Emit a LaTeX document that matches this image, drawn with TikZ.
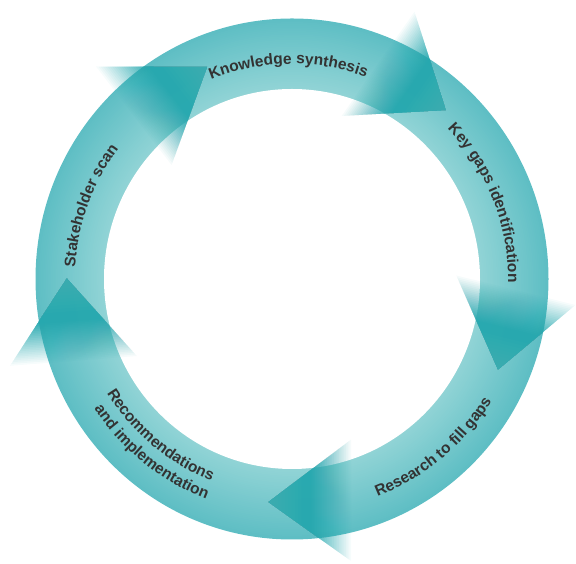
\documentclass[tikz,border=0pt]{standalone}
\usepackage{fontspec}
\setmainfont{Liberation Sans}
\usetikzlibrary{calc,decorations.text}
\definecolor{ringout}{RGB}{94,190,196}
\definecolor{ringin}{RGB}{146,212,214}
\definecolor{ringmid}{RGB}{112,199,203}
\definecolor{headteal}{RGB}{38,168,175}
\definecolor{labelgray}{RGB}{51,51,51}
\newcommand{\lblfont}{\fontsize{15.5}{18}\selectfont\bfseries\color{labelgray}}
\newcommand{\arrowhd}[3]{%
  \foreach \k in {1,...,24}{%
    \pgfmathsetmacro\hT{(\k-1)/24*0.5}%
    \pgfmathsetmacro\hA{(0.95/24)/(1-0.95*(\k-1)/24)}%
    \fill[headteal, fill opacity=\hA] ($(#2)!\hT!(#1)$) -- (#1) -- ($(#3)!\hT!(#1)$) -- cycle;
  }%
  \foreach \k in {1,...,10}{%
    \pgfmathsetmacro\hT{0.6+(\k-1)/10*0.4}%
    \fill[ringmid, fill opacity=0.035] ($(#2)!\hT!(#1)$) -- (#1) -- ($(#3)!\hT!(#1)$) -- cycle;
  }%
}
\tikzset{
  arclabel/.style={decorate, decoration={text along path, text align=center, text={|\lblfont|#1}}}
}
\begin{document}
\begin{tikzpicture}[x=1pt,y=1pt]
\useasboundingbox (0,0) rectangle (576,564);
\coordinate (C) at (292,285);
% ring with radial colour change
\foreach \i in {0,...,40}{%
  \pgfmathsetmacro\rf{\i/40}%
  \pgfmathsetmacro\rx{256.5-\rf*68.5}%
  \pgfmathsetmacro\ry{260.5-\rf*70.5}%
  \pgfmathsetmacro\rp{100*\rf}%
  \fill[ringin!\rp!ringout] (C) ellipse[x radius=\rx, y radius=\ry];
}
\fill[white] (C) ellipse[x radius=188, y radius=190];
% arrow heads: tip, outer base corner, inner base corner
\coordinate (t1) at (207,497);   \coordinate (o1) at (96,497.5);   \coordinate (i1) at (171.6,399);
\coordinate (t2) at (445.7,454); \coordinate (o2) at (414.5,552.3); \coordinate (i2) at (341.7,448);
\coordinate (t3) at (498,194.5); \coordinate (o3) at (575.5,259);   \coordinate (i3) at (456.3,288.5);
\coordinate (t4) at (268.5,62);  \coordinate (o4) at (351,3);       \coordinate (i4) at (351,124.4);
\coordinate (t5) at (66.8,285.5);\coordinate (o5) at (10,198.2);    \coordinate (i5) at (136.8,208);
\arrowhd{t1}{o1}{i1}
\arrowhd{t2}{o2}{i2}
\arrowhd{t3}{o3}{i3}
\arrowhd{t4}{o4}{i4}
\arrowhd{t5}{o5}{i5}
% labels along the ring
\path[arclabel={Knowledge synthesis}] ([shift={(131:215)}]C) arc[start angle=131, end angle=51, radius=215];
\path[arclabel={Key gaps identification}] ([shift={(63:216)}]C) arc[start angle=63, end angle=-20, radius=216];
\path[arclabel={Research to fill gaps}] ([shift={(-92:234)}]C) arc[start angle=-92, end angle=-8, radius=234];
\path[arclabel={Recommendations}] ([shift={(188:217.5)}]C) arc[start angle=188, end angle=272, radius=217.5];
\path[arclabel={and implementation}] ([shift={(189:236.5)}]C) arc[start angle=189, end angle=273, radius=236.5];
\path[arclabel={Stakeholder scan}] ([shift={(200:217)}]C) arc[start angle=200, end angle=120, radius=217];
\end{tikzpicture}
\end{document}
